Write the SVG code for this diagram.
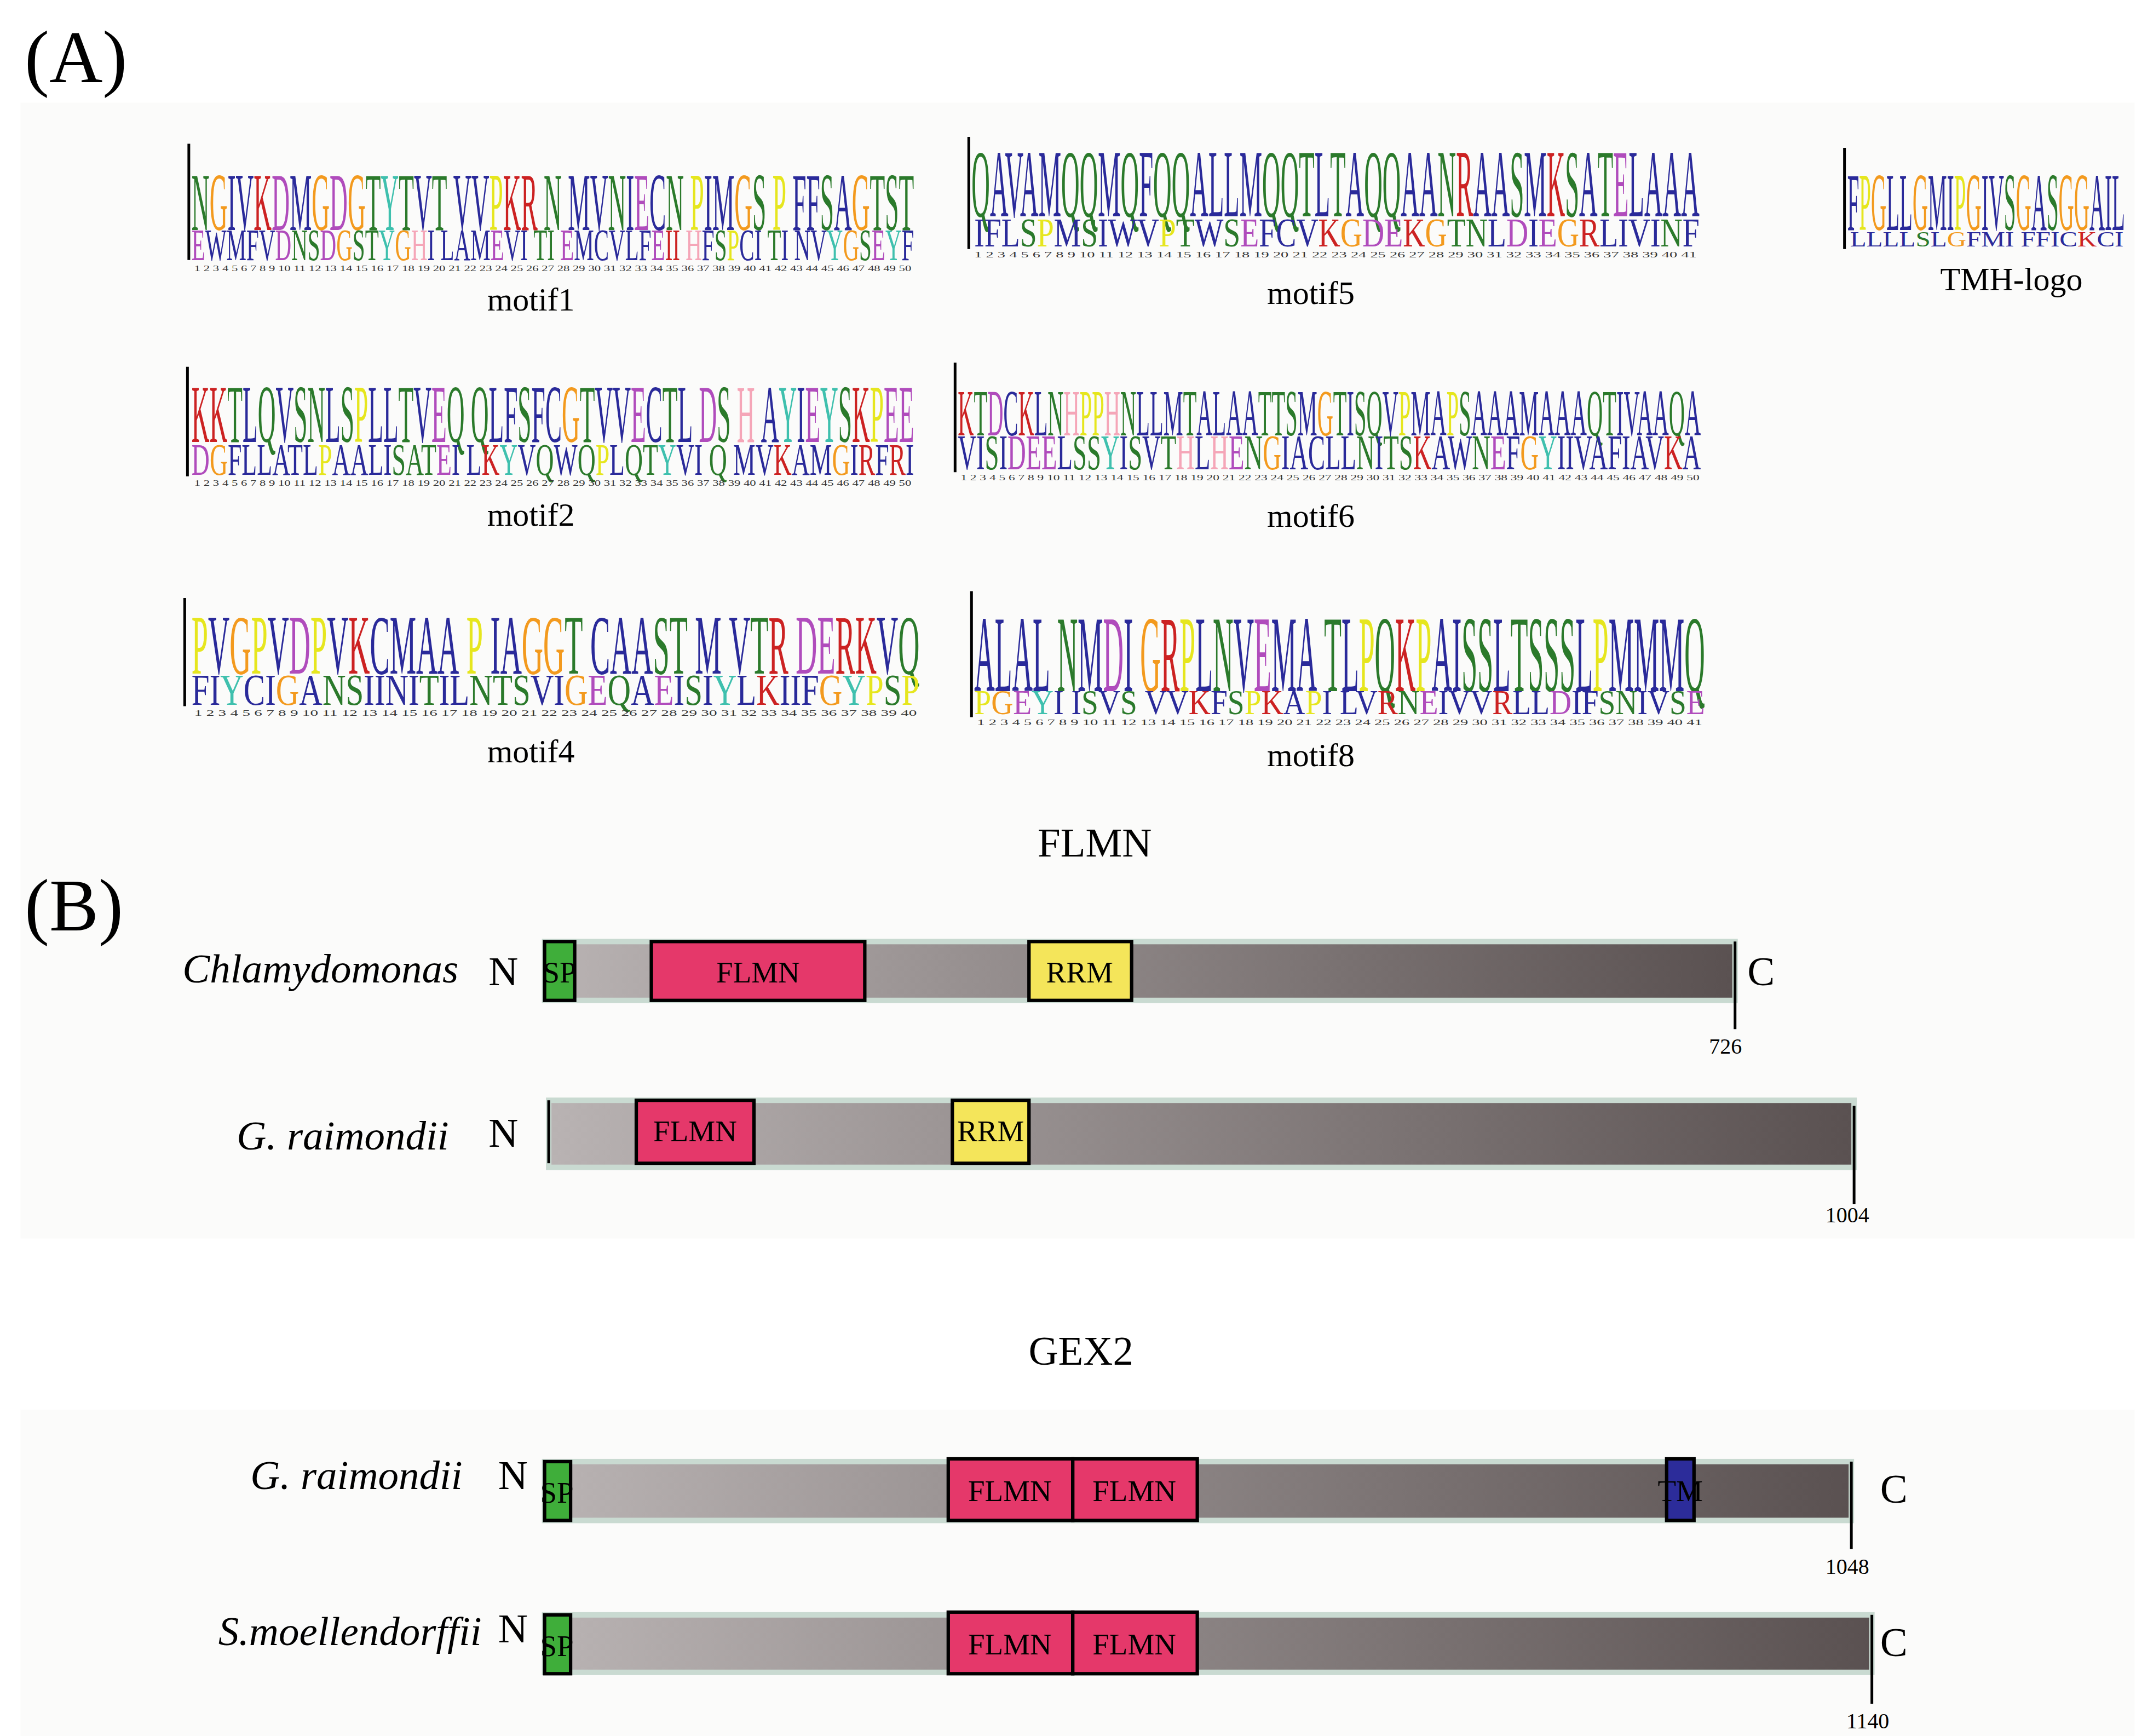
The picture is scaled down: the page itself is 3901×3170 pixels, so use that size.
<svg xmlns="http://www.w3.org/2000/svg" width="3901" height="3170" viewBox="0 0 3901 3170">
<defs>
<linearGradient id="bar" x1="0" x2="1" y1="0" y2="0"><stop offset="0" stop-color="#b9b3b3"/><stop offset="1" stop-color="#5a5151"/></linearGradient>
<style>
text{font-family:"Liberation Serif","Times New Roman",serif;}
.b{fill:#2a2a9a}.g{fill:#2b7a2b}.m{fill:#b04cbc}.r{fill:#cc2222}.o{fill:#f39a1e}.y{fill:#e6e61e}.p{fill:#f5a6b8}.t{fill:#3fc0ae}
.lbl{font-size:24px;text-anchor:middle}
.num{font-size:6px;fill:#333}
.ax{stroke:#000;stroke-width:2;fill:none}
.bar{fill:url(#bar);stroke:#c9dad1;stroke-width:4}
.dom{stroke:#000;stroke-width:2.5}
.dt{font-size:22px;text-anchor:middle}
.sp{font-size:30px;font-style:italic;text-anchor:end}
.nc{font-size:30px}
.len{font-size:16px;text-anchor:middle}
.tk{stroke:#000;stroke-width:2}
</style>
</defs>
<rect width="3901" height="3170" fill="#fff"/>
<g transform="scale(2.499)">
<rect x="15" y="75" width="1545" height="830" fill="#fbfbfa"/>
<rect x="15" y="1030" width="1545" height="240" fill="#fbfbfa"/>
<text x="18" y="60" font-size="54">(A)</text>
<text x="18" y="680" font-size="54">(B)</text>

<g id="motif1">
<path class="ax" d="M138 105V190"/>
<text x="140" y="168" font-size="60" textLength="528" lengthAdjust="spacingAndGlyphs"><tspan class="g">N</tspan><tspan class="o">G</tspan><tspan class="b">IV</tspan><tspan class="r">K</tspan><tspan class="m">D</tspan><tspan class="b">M</tspan><tspan class="o">G</tspan><tspan class="m">D</tspan><tspan class="o">G</tspan><tspan class="g">T</tspan><tspan class="t">Y</tspan><tspan class="g">T</tspan><tspan class="b">V</tspan><tspan class="g">T</tspan> <tspan class="b">VV</tspan><tspan class="y">P</tspan><tspan class="r">KR</tspan> <tspan class="g">N</tspan> <tspan class="b">MV</tspan><tspan class="g">N</tspan><tspan class="b">I</tspan><tspan class="m">E</tspan><tspan class="b">C</tspan><tspan class="g">N</tspan> <tspan class="y">P</tspan><tspan class="b">IM</tspan><tspan class="o">G</tspan><tspan class="g">S</tspan> <tspan class="y">P</tspan> <tspan class="b">FF</tspan><tspan class="g">S</tspan><tspan class="b">A</tspan><tspan class="o">G</tspan><tspan class="g">TST</tspan></text>
<text x="140" y="190" font-size="33" textLength="528" lengthAdjust="spacingAndGlyphs"><tspan class="m">E</tspan><tspan class="b">WMFV</tspan><tspan class="m">D</tspan><tspan class="g">NS</tspan><tspan class="m">D</tspan><tspan class="o">G</tspan><tspan class="g">ST</tspan><tspan class="t">Y</tspan><tspan class="o">G</tspan><tspan class="p">H</tspan><tspan class="b">I</tspan> <tspan class="b">LAM</tspan><tspan class="m">E</tspan><tspan class="b">VI</tspan> <tspan class="g">TI</tspan> <tspan class="m">E</tspan><tspan class="b">MCVLF</tspan><tspan class="m">E</tspan><tspan class="r">II</tspan> <tspan class="p">H</tspan><tspan class="b">F</tspan><tspan class="g">S</tspan><tspan class="y">P</tspan><tspan class="b">CI</tspan> <tspan class="g">T</tspan><tspan class="b">I</tspan> <tspan class="b">NV</tspan><tspan class="t">Y</tspan><tspan class="o">G</tspan><tspan class="g">S</tspan><tspan class="m">E</tspan><tspan class="t">Y</tspan><tspan class="b">F</tspan></text>
<text x="142" y="198" class="num" textLength="524" lengthAdjust="spacingAndGlyphs">1 2 3 4 5 6 7 8 9 10 11 12 13 14 15 16 17 18 19 20 21 22 23 24 25 26 27 28 29 30 31 32 33 34 35 36 37 38 39 40 41 42 43 44 45 46 47 48 49 50</text>
<text x="388" y="227" class="lbl">motif1</text>
</g>

<g id="motif5">
<path class="ax" d="M708 100V182"/>
<text x="710" y="158" font-size="70" textLength="532" lengthAdjust="spacingAndGlyphs"><tspan class="g">Q</tspan><tspan class="b">AVAM</tspan><tspan class="g">QQ</tspan><tspan class="b">M</tspan><tspan class="g">Q</tspan><tspan class="b">F</tspan><tspan class="g">QQ</tspan><tspan class="b">ALLM</tspan><tspan class="g">QQT</tspan><tspan class="b">L</tspan><tspan class="g">T</tspan><tspan class="b">A</tspan><tspan class="g">QQ</tspan><tspan class="b">AA</tspan><tspan class="g">N</tspan><tspan class="r">R</tspan><tspan class="b">AA</tspan><tspan class="g">S</tspan><tspan class="b">M</tspan><tspan class="r">K</tspan><tspan class="g">S</tspan><tspan class="b">A</tspan><tspan class="g">T</tspan><tspan class="m">E</tspan><tspan class="b">LAAA</tspan></text>
<text x="712" y="180" font-size="30" textLength="530" lengthAdjust="spacingAndGlyphs"><tspan class="b">IFL</tspan><tspan class="g">S</tspan><tspan class="y">P</tspan><tspan class="b">M</tspan><tspan class="g">S</tspan><tspan class="b">IWV</tspan><tspan class="y">P</tspan><tspan class="g">T</tspan><tspan class="b">W</tspan><tspan class="g">S</tspan><tspan class="m">E</tspan><tspan class="b">FCV</tspan><tspan class="r">K</tspan><tspan class="o">G</tspan><tspan class="m">DE</tspan><tspan class="r">K</tspan><tspan class="o">G</tspan><tspan class="g">TN</tspan><tspan class="b">L</tspan><tspan class="m">D</tspan><tspan class="b">I</tspan><tspan class="m">E</tspan><tspan class="o">G</tspan><tspan class="r">R</tspan><tspan class="b">LIVI</tspan><tspan class="g">N</tspan><tspan class="b">F</tspan></text>
<text x="712" y="188" class="num" textLength="528" lengthAdjust="spacingAndGlyphs">1 2 3 4 5 6 7 8 9 10 11 12 13 14 15 16 17 18 19 20 21 22 23 24 25 26 27 28 29 30 31 32 33 34 35 36 37 38 39 40 41</text>
<text x="958" y="222" class="lbl">motif5</text>
</g>

<g id="tmh">
<path class="ax" d="M1348 108V182"/>
<text x="1350" y="168" font-size="60" textLength="203" lengthAdjust="spacingAndGlyphs"><tspan class="b">F</tspan><tspan class="y">P</tspan><tspan class="o">G</tspan><tspan class="b">LL</tspan><tspan class="o">G</tspan><tspan class="b">MI</tspan><tspan class="y">P</tspan><tspan class="o">G</tspan><tspan class="b">IV</tspan><tspan class="g">S</tspan><tspan class="o">G</tspan><tspan class="b">A</tspan><tspan class="g">S</tspan><tspan class="o">GG</tspan><tspan class="b">AIL</tspan></text>
<text x="1352" y="180" font-size="16" textLength="200" lengthAdjust="spacingAndGlyphs"><tspan class="b">LLLL</tspan><tspan class="g">S</tspan><tspan class="b">L</tspan><tspan class="o">G</tspan><tspan class="b">FMI FFIC</tspan><tspan class="r">K</tspan><tspan class="b">CI</tspan></text>
<text x="1470" y="212" class="lbl">TMH-logo</text>
</g>

<g id="motif2">
<path class="ax" d="M137 268V348"/>
<text x="140" y="323" font-size="60" textLength="528" lengthAdjust="spacingAndGlyphs"><tspan class="r">KK</tspan><tspan class="g">T</tspan><tspan class="b">L</tspan><tspan class="g">Q</tspan><tspan class="b">V</tspan><tspan class="g">SN</tspan><tspan class="b">L</tspan><tspan class="g">S</tspan><tspan class="y">P</tspan><tspan class="b">LL</tspan><tspan class="g">T</tspan><tspan class="b">V</tspan><tspan class="m">E</tspan><tspan class="g">Q</tspan> <tspan class="g">Q</tspan><tspan class="b">LF</tspan><tspan class="g">S</tspan><tspan class="b">FC</tspan><tspan class="o">G</tspan><tspan class="g">T</tspan><tspan class="b">VV</tspan><tspan class="m">E</tspan><tspan class="b">C</tspan><tspan class="g">T</tspan><tspan class="b">L</tspan> <tspan class="m">D</tspan><tspan class="g">S</tspan> <tspan class="p">H</tspan> <tspan class="b">A</tspan><tspan class="t">Y</tspan><tspan class="b">I</tspan><tspan class="m">E</tspan><tspan class="t">Y</tspan><tspan class="g">S</tspan><tspan class="r">K</tspan><tspan class="y">P</tspan><tspan class="m">EE</tspan></text>
<text x="140" y="347" font-size="33" textLength="528" lengthAdjust="spacingAndGlyphs"><tspan class="m">D</tspan><tspan class="o">G</tspan><tspan class="b">FLLATL</tspan><tspan class="y">P</tspan><tspan class="b">AALI</tspan><tspan class="g">SAT</tspan><tspan class="m">E</tspan><tspan class="b">I</tspan> <tspan class="b">L</tspan><tspan class="r">K</tspan><tspan class="t">Y</tspan><tspan class="b">V</tspan><tspan class="g">Q</tspan><tspan class="b">W</tspan><tspan class="g">Q</tspan><tspan class="y">P</tspan><tspan class="b">L</tspan><tspan class="g">QT</tspan><tspan class="t">Y</tspan><tspan class="b">VI</tspan> <tspan class="g">Q</tspan> <tspan class="b">MV</tspan><tspan class="r">K</tspan><tspan class="b">AM</tspan><tspan class="o">G</tspan><tspan class="b">I</tspan><tspan class="r">R</tspan><tspan class="b">F</tspan><tspan class="r">R</tspan><tspan class="b">I</tspan></text>
<text x="142" y="355" class="num" textLength="524" lengthAdjust="spacingAndGlyphs">1 2 3 4 5 6 7 8 9 10 11 12 13 14 15 16 17 18 19 20 21 22 23 24 25 26 27 28 29 30 31 32 33 34 35 36 37 38 39 40 41 42 43 44 45 46 47 48 49 50</text>
<text x="388" y="384" class="lbl">motif2</text>
</g>

<g id="motif6">
<path class="ax" d="M698 265V345"/>
<text x="700" y="318" font-size="48" textLength="543" lengthAdjust="spacingAndGlyphs"><tspan class="r">K</tspan><tspan class="g">T</tspan><tspan class="m">D</tspan><tspan class="b">C</tspan><tspan class="r">K</tspan><tspan class="b">L</tspan><tspan class="g">N</tspan><tspan class="p">H</tspan><tspan class="y">PP</tspan><tspan class="p">H</tspan><tspan class="g">N</tspan><tspan class="b">LLM</tspan><tspan class="g">T</tspan><tspan class="b">ALAA</tspan><tspan class="g">TTS</tspan><tspan class="b">M</tspan><tspan class="o">G</tspan><tspan class="g">T</tspan><tspan class="b">I</tspan><tspan class="g">SQ</tspan><tspan class="b">V</tspan><tspan class="y">P</tspan><tspan class="b">MA</tspan><tspan class="y">P</tspan><tspan class="g">S</tspan><tspan class="b">AAAMAAA</tspan><tspan class="g">QT</tspan><tspan class="b">IVAA</tspan><tspan class="g">Q</tspan><tspan class="b">A</tspan></text>
<text x="700" y="343" font-size="36" textLength="543" lengthAdjust="spacingAndGlyphs"><tspan class="b">VI</tspan><tspan class="g">S</tspan><tspan class="b">I</tspan><tspan class="m">DEE</tspan><tspan class="b">L</tspan><tspan class="g">SS</tspan><tspan class="t">Y</tspan><tspan class="b">I</tspan><tspan class="g">S</tspan><tspan class="b">V</tspan><tspan class="g">T</tspan><tspan class="p">H</tspan><tspan class="b">L</tspan><tspan class="p">H</tspan><tspan class="m">E</tspan><tspan class="g">N</tspan><tspan class="o">G</tspan><tspan class="b">IACLL</tspan><tspan class="g">N</tspan><tspan class="b">I</tspan><tspan class="g">TS</tspan><tspan class="r">K</tspan><tspan class="b">AW</tspan><tspan class="g">N</tspan><tspan class="m">E</tspan><tspan class="b">F</tspan><tspan class="o">G</tspan><tspan class="t">Y</tspan><tspan class="b">IIVAFIAV</tspan><tspan class="r">K</tspan><tspan class="b">A</tspan></text>
<text x="702" y="351" class="num" textLength="540" lengthAdjust="spacingAndGlyphs">1 2 3 4 5 6 7 8 9 10 11 12 13 14 15 16 17 18 19 20 21 22 23 24 25 26 27 28 29 30 31 32 33 34 35 36 37 38 39 40 41 42 43 44 45 46 47 48 49 50</text>
<text x="958" y="385" class="lbl">motif6</text>
</g>

<g id="motif4">
<path class="ax" d="M135 437V516"/>
<text x="140" y="492" font-size="62" textLength="532" lengthAdjust="spacingAndGlyphs"><tspan class="y">P</tspan><tspan class="b">V</tspan><tspan class="o">G</tspan><tspan class="y">P</tspan><tspan class="b">V</tspan><tspan class="m">D</tspan><tspan class="y">P</tspan><tspan class="b">V</tspan><tspan class="r">K</tspan><tspan class="b">CMAA</tspan> <tspan class="y">P</tspan> <tspan class="b">IA</tspan><tspan class="o">GG</tspan><tspan class="g">T</tspan> <tspan class="b">CAA</tspan><tspan class="g">ST</tspan> <tspan class="b">M</tspan> <tspan class="b">V</tspan><tspan class="g">T</tspan><tspan class="r">R</tspan>  <tspan class="m">DE</tspan><tspan class="r">RK</tspan><tspan class="b">V</tspan><tspan class="g">Q</tspan></text>
<text x="140" y="515" font-size="32" textLength="532" lengthAdjust="spacingAndGlyphs"><tspan class="b">FI</tspan><tspan class="t">Y</tspan><tspan class="b">CI</tspan><tspan class="o">G</tspan><tspan class="b">A</tspan><tspan class="g">NS</tspan><tspan class="b">IINI</tspan><tspan class="g">T</tspan><tspan class="b">IL</tspan><tspan class="g">NTS</tspan><tspan class="b">VI</tspan><tspan class="o">G</tspan><tspan class="m">E</tspan><tspan class="g">Q</tspan><tspan class="b">A</tspan><tspan class="m">E</tspan><tspan class="b">I</tspan><tspan class="g">S</tspan><tspan class="b">I</tspan><tspan class="t">Y</tspan><tspan class="b">L</tspan><tspan class="r">K</tspan><tspan class="b">IIF</tspan><tspan class="o">G</tspan><tspan class="t">Y</tspan><tspan class="y">P</tspan><tspan class="g">S</tspan><tspan class="y">P</tspan></text>
<text x="142" y="523" class="num" textLength="528" lengthAdjust="spacingAndGlyphs">1 2 3 4 5 6 7 8 9 10 11 12 13 14 15 16 17 18 19 20 21 22 23 24 25 26 27 28 29 30 31 32 33 34 35 36 37 38 39 40</text>
<text x="388" y="557" class="lbl">motif4</text>
</g>

<g id="motif8">
<path class="ax" d="M710 432V524"/>
<text x="712" y="505" font-size="80" textLength="534" lengthAdjust="spacingAndGlyphs"><tspan class="b">ALAL</tspan> <tspan class="g">N</tspan><tspan class="b">M</tspan><tspan class="m">D</tspan><tspan class="b">I</tspan> <tspan class="o">G</tspan><tspan class="r">R</tspan><tspan class="y">P</tspan><tspan class="b">L</tspan><tspan class="g">N</tspan><tspan class="b">V</tspan><tspan class="m">E</tspan><tspan class="b">MA</tspan> <tspan class="g">T</tspan><tspan class="b">L</tspan><tspan class="y">P</tspan><tspan class="g">Q</tspan><tspan class="r">K</tspan><tspan class="y">P</tspan><tspan class="b">AI</tspan><tspan class="g">SS</tspan><tspan class="b">L</tspan><tspan class="g">TSSS</tspan><tspan class="b">L</tspan><tspan class="y">P</tspan><tspan class="b">MMM</tspan><tspan class="g">Q</tspan></text>
<text x="712" y="522" font-size="25" textLength="534" lengthAdjust="spacingAndGlyphs"><tspan class="y">P</tspan><tspan class="o">G</tspan><tspan class="m">E</tspan><tspan class="t">Y</tspan><tspan class="b">I</tspan> <tspan class="b">I</tspan><tspan class="g">S</tspan><tspan class="b">V</tspan><tspan class="g">S</tspan> <tspan class="b">VV</tspan><tspan class="r">K</tspan><tspan class="b">F</tspan><tspan class="g">S</tspan><tspan class="y">P</tspan><tspan class="r">K</tspan><tspan class="b">A</tspan><tspan class="y">P</tspan><tspan class="b">I</tspan> <tspan class="b">LV</tspan><tspan class="r">R</tspan><tspan class="g">N</tspan><tspan class="m">E</tspan><tspan class="b">IVV</tspan><tspan class="r">R</tspan><tspan class="b">LL</tspan><tspan class="m">D</tspan><tspan class="b">IF</tspan><tspan class="g">SN</tspan><tspan class="b">IV</tspan><tspan class="g">S</tspan><tspan class="m">E</tspan></text>
<text x="714" y="530" class="num" textLength="530" lengthAdjust="spacingAndGlyphs">1 2 3 4 5 6 7 8 9 10 11 12 13 14 15 16 17 18 19 20 21 22 23 24 25 26 27 28 29 30 31 32 33 34 35 36 37 38 39 40 41</text>
<text x="958" y="560" class="lbl">motif8</text>
</g>

<text x="800" y="626" font-size="30" text-anchor="middle">FLMN</text>
<g id="chlamy">
<rect class="bar" x="398" y="688" width="870" height="43"/>
<rect class="dom" x="398" y="688" width="22" height="43" fill="#3fae3a"/><text x="409" y="718" class="dt">SP</text>
<rect class="dom" x="476" y="688" width="156" height="43" fill="#e5386a"/><text x="554" y="718" class="dt">FLMN</text>
<rect class="dom" x="752" y="688" width="75" height="43" fill="#f4e55a"/><text x="789" y="718" class="dt">RRM</text>
<path class="tk" d="M1268 688V752"/>
<text x="335" y="718" class="sp">Chlamydomonas</text>
<text x="357" y="720" class="nc">N</text><text x="1277" y="720" class="nc">C</text>
<text x="1261" y="770" class="len">726</text>
</g>
<g id="graim1">
<rect class="bar" x="401" y="804" width="954" height="49"/>
<path class="tk" d="M401 804V850"/>
<rect class="dom" x="465" y="804" width="86" height="46" fill="#e5386a"/><text x="508" y="834" class="dt">FLMN</text>
<rect class="dom" x="696" y="804" width="56" height="46" fill="#f4e55a"/><text x="724" y="834" class="dt">RRM</text>
<path class="tk" d="M1355 808V880"/>
<text x="328" y="840" class="sp">G. raimondii</text>
<text x="357" y="838" class="nc">N</text>
<text x="1350" y="893" class="len">1004</text>
</g>

<text x="790" y="997" font-size="30" text-anchor="middle">GEX2</text>
<g id="graim2">
<rect class="bar" x="398" y="1068" width="955" height="43"/>
<rect class="dom" x="398" y="1068" width="19" height="43" fill="#3fae3a"/><text x="407" y="1098" class="dt">SP</text>
<rect class="dom" x="693" y="1066" width="91" height="45" fill="#e5386a"/><text x="738" y="1097" class="dt">FLMN</text>
<rect class="dom" x="784" y="1066" width="91" height="45" fill="#e5386a"/><text x="829" y="1097" class="dt">FLMN</text>
<rect class="dom" x="1218" y="1066" width="20" height="45" fill="#2c2c9a"/><text x="1228" y="1097" class="dt">TM</text>
<path class="tk" d="M1353 1068V1132"/>
<text x="338" y="1088" class="sp">G. raimondii</text>
<text x="364" y="1088" class="nc">N</text><text x="1374" y="1098" class="nc">C</text>
<text x="1350" y="1150" class="len">1048</text>
</g>
<g id="smoe">
<rect class="bar" x="398" y="1180" width="970" height="42"/>
<rect class="dom" x="398" y="1180" width="19" height="43" fill="#3fae3a"/><text x="407" y="1210" class="dt">SP</text>
<rect class="dom" x="693" y="1178" width="91" height="45" fill="#e5386a"/><text x="738" y="1209" class="dt">FLMN</text>
<rect class="dom" x="784" y="1178" width="91" height="45" fill="#e5386a"/><text x="829" y="1209" class="dt">FLMN</text>
<path class="tk" d="M1368 1180V1245"/>
<text x="352" y="1202" class="sp">S.moellendorffii</text>
<text x="364" y="1200" class="nc">N</text><text x="1374" y="1210" class="nc">C</text>
<text x="1365" y="1263" class="len">1140</text>
</g>
</g>
</svg>
